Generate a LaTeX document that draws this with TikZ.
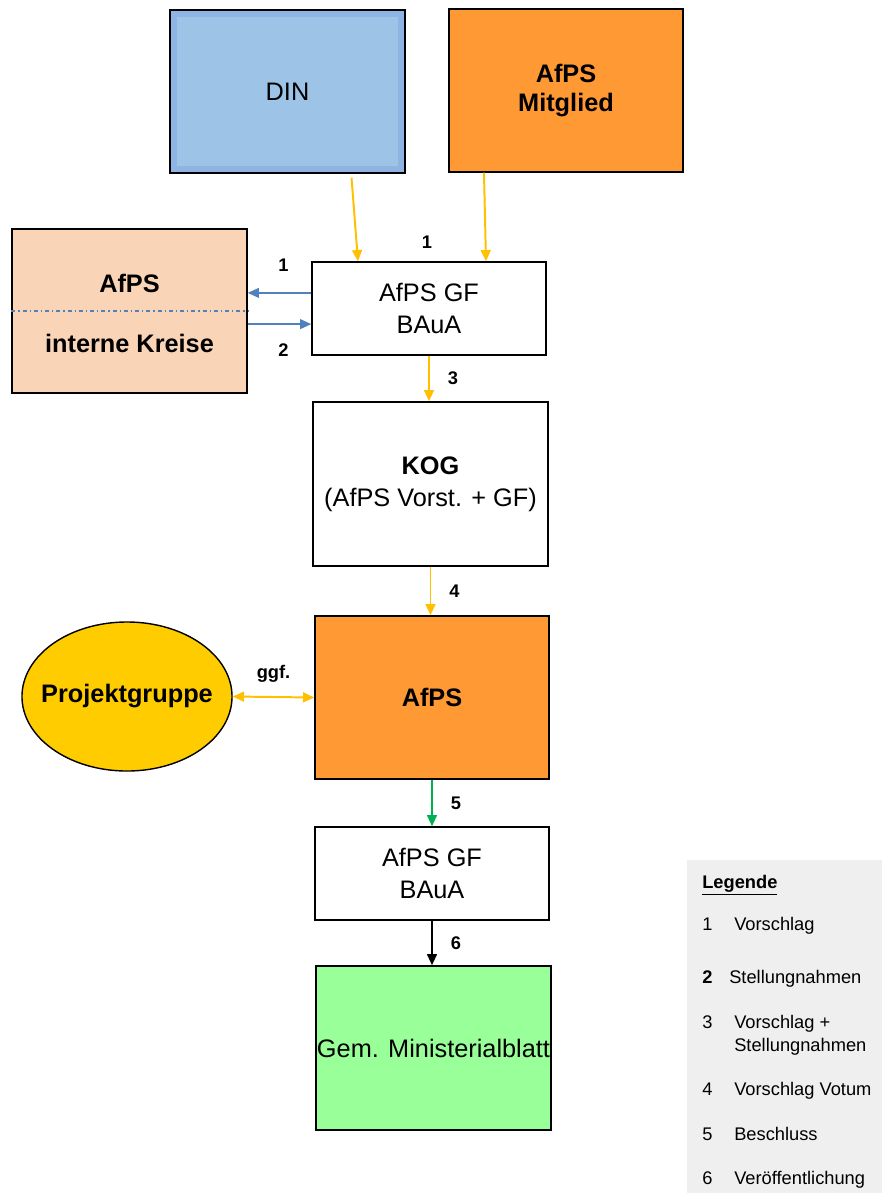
\documentclass[tikz,border=0pt]{standalone}
\usepackage{fontspec}
\setmainfont{Liberation Sans}
\usetikzlibrary{calc}
\usetikzlibrary{shapes.geometric}
\usetikzlibrary{arrows.meta}

\definecolor{dinblau}{HTML}{9DC3E6}
\definecolor{dinrand}{HTML}{8DB4E2}
\definecolor{afpsorange}{HTML}{FF9933}
\definecolor{kreisepfirsich}{HTML}{F9D4B6}
\definecolor{pfeilgelb}{HTML}{FFC000}
\definecolor{pfeilblau}{HTML}{4F81BD}
\definecolor{pfeilgruen}{HTML}{00B050}
\definecolor{projektgelb}{HTML}{FFCC00}
\definecolor{blattgruen}{HTML}{99FF99}
\definecolor{legendgrau}{HTML}{EFEFEF}

\tikzset{
	kasten/.style={draw=black, line width=1pt, align=center, inner sep=0pt, font=\fontsize{18}{23}\selectfont},
	fettkasten/.style={kasten, font=\fontsize{18}{21}\selectfont\bfseries},
	pfeil/.style={line width=1.4pt, -{Triangle[length=8pt,width=7pt]}},
	nummer/.style={text=black, font=\fontsize{13}{15}\selectfont\bfseries, inner sep=1pt},
	legende/.style={font=\fontsize{13}{16}\selectfont, anchor=base west, inner sep=0pt}
}

\begin{document}
\begin{tikzpicture}[x=0.025cm, y=-0.025cm]
	\useasboundingbox (0,0) rectangle (882,1193);

	\node[kasten, fill=dinrand, minimum width=5.875cm, minimum height=4.075cm,
		path picture={\fill[dinblau] ([shift={(0.17cm,0.17cm)}]path picture bounding box.south west) rectangle ([shift={(-0.17cm,-0.17cm)}]path picture bounding box.north east);}]
		(din) at (287.5,91.5) {DIN};
	\node[fettkasten, fill=afpsorange, minimum width=5.85cm, minimum height=4.075cm] (mitglied) at (566,90.5) {AfPS\\Mitglied};

	\node[kasten, fill=kreisepfirsich, minimum width=5.875cm, minimum height=4.1cm] (kreise) at (129.5,311) {};
	\draw[pfeilblau, line width=1pt, dash dot] (kreise.west) -- (kreise.east);
	\node[font=\fontsize{18}{23}\selectfont\bfseries] (kreise-afps) at (129.5,283) {AfPS};
	\node[font=\fontsize{18}{23}\selectfont\bfseries] (kreise-intern) at (129.5,343) {interne Kreise};

	\node[kasten, fill=white, minimum width=5.85cm, minimum height=2.325cm] (gfoben) at (429,308.5) {AfPS GF\\BAuA};
	\node[kasten, fill=white, minimum width=5.875cm, minimum height=4.1cm] (kog) at (430.5,484) {\textbf{KOG}\\(AfPS Vorst. + GF)};
	\node[fettkasten, fill=afpsorange, minimum width=5.85cm, minimum height=4.075cm] (afps) at (432,697.5) {AfPS};
	\node[ellipse, draw=black, line width=1pt, fill=projektgelb, inner xsep=-0.45cm, inner ysep=0pt, font=\fontsize{18}{23}\selectfont\bfseries,
		minimum width=5.25cm, minimum height=3.725cm] (projekt) at (127,696.5) {Projektgruppe};
	\node[kasten, fill=white, minimum width=5.85cm, minimum height=2.325cm] (gfunten) at (432,873.5) {AfPS GF\\BAuA};
	\node[kasten, fill=blattgruen, minimum width=5.875cm, minimum height=4.1cm] (blatt) at (433.5,1048) {Gem. Ministerialblatt};

	\draw[pfeil, pfeilgelb] ([xshift=1.6cm,yshift=-0.1cm]din.south) -- ([xshift=-1.775cm]gfoben.north);
	\draw[pfeil, pfeilgelb] ([xshift=-2.05cm]mitglied.south) -- ([xshift=1.425cm]gfoben.north);
	\node[nummer] (n1-oben) at ([xshift=-0.05cm,yshift=0.475cm]gfoben.north) {1};

	\draw[pfeil, pfeilblau, line width=1.1pt] ([yshift=0.39cm]gfoben.west) -- ([yshift=0.39cm]gfoben.west -| kreise.east)
		node[nummer, midway, xshift=0.1cm, yshift=0.7cm] (n1-links) {1};
	\draw[pfeil, pfeilblau, line width=1.1pt] ([yshift=-0.39cm]gfoben.west -| kreise.east) -- ([yshift=-0.39cm]gfoben.west)
		node[nummer, midway, xshift=0.1cm, yshift=-0.65cm] (n2) {2};

	\draw[pfeil, pfeilgelb] (gfoben.south) -- (gfoben.south |- kog.north) node[nummer, midway, xshift=0.6cm] (n3) {3};
	\draw[pfeil, pfeilgelb] (kog.south) -- (kog.south |- afps.north) node[nummer, midway, xshift=0.6cm] (n4) {4};
	\draw[line width=1.4pt, pfeilgelb, {Triangle[length=8pt,width=7pt]}-{Triangle[length=8pt,width=7pt]}] (projekt.east) -- (afps.west)
		node[nummer, midway, yshift=0.575cm] (ggf) {ggf.};
	\draw[pfeil, pfeilgruen] (afps.south) -- (afps.south |- gfunten.north) node[nummer, midway, xshift=0.6cm] (n5) {5};
	\draw[pfeil, black] (gfunten.south) -- (gfunten.south |- blatt.north) node[nummer, midway, xshift=0.6cm] (n6) {6};

	\fill[legendgrau] (687,860) rectangle (882,1193);
	\node[legende, font=\fontsize{13}{16}\selectfont\bfseries] (legende) at (702,888.5) {\underline{Legende}};
	\foreach \nr/\y/\txt in {1/930.5/Vorschlag, 3/1028.5/{\begin{tabular}[t]{@{}l@{}}Vorschlag +\\Stellungnahmen\end{tabular}}, 4/1095.5/Vorschlag Votum, 5/1140.5/Beschluss, 6/1184.5/Veröffentlichung}
	{
		\node[legende] (legnr-\nr) at (702,\y) {\nr};
		\node[legende] (leg-\nr) at (734,\y) {\txt};
	}
	\node[legende, font=\fontsize{13}{16}\selectfont\bfseries] (legnr-2) at (702,983.5) {2};
	\node[legende] (leg-2) at (729,983.5) {Stellungnahmen};
\end{tikzpicture}
\end{document}
